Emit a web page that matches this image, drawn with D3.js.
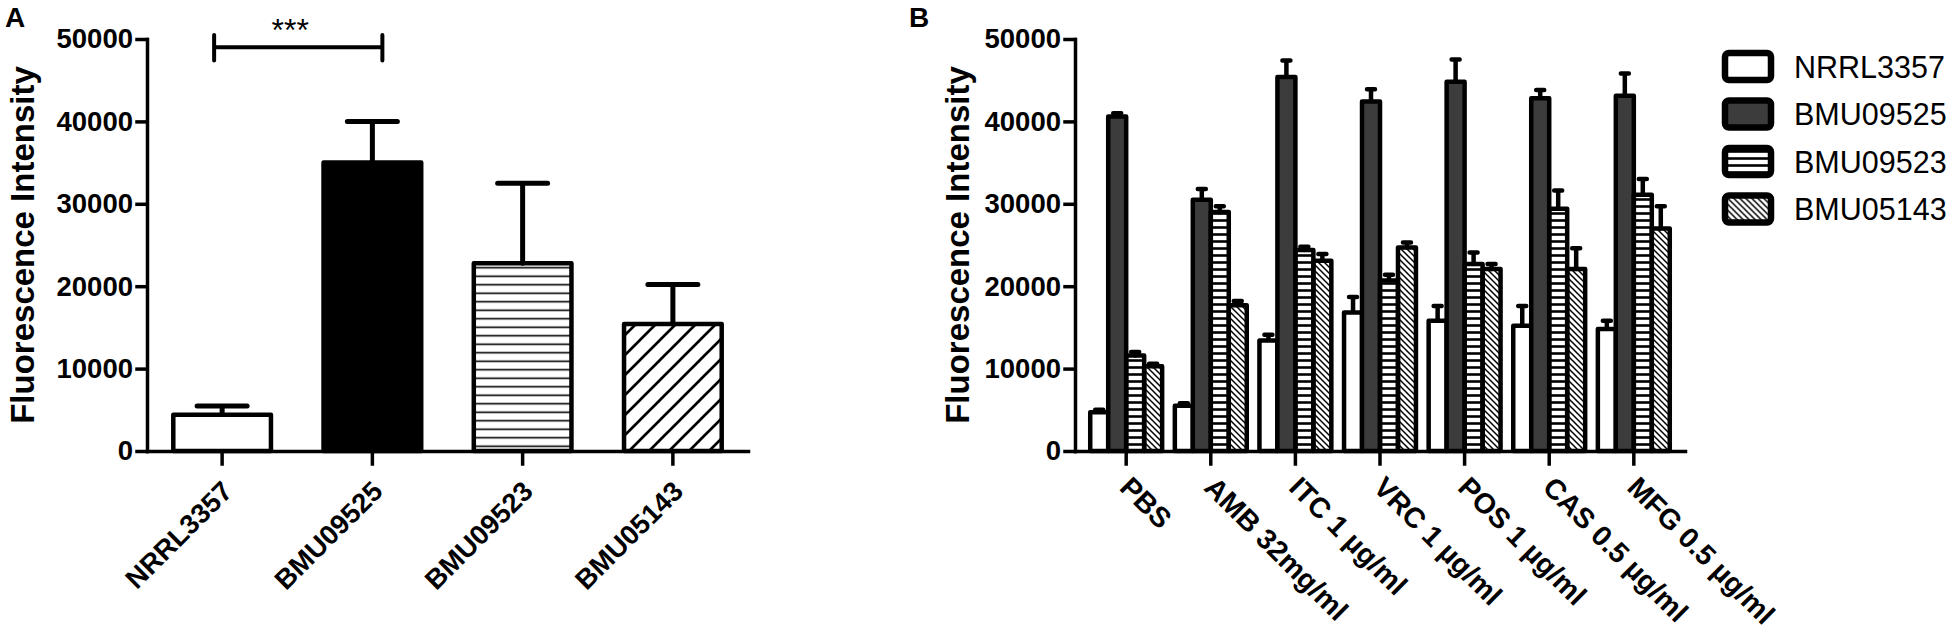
<!DOCTYPE html>
<html>
<head>
<meta charset="utf-8">
<script src="https://cdn.jsdelivr.net/npm/d3@7"></script>
<style>
  body { margin: 0; background: #fff; }
  svg { display: block; font-family: Arial, "Liberation Sans", sans-serif; }
  .axis .domain, .axis .tick line { stroke: #000; stroke-width: 3.5; stroke-linecap: square; }
  .axis text { fill: #000; font-weight: bold; font-size: 27.5px; }
</style>
</head>
<body>
<div id="chart"></div>
<script>
// ---- data ----
var strains = ["NRRL3357", "BMU09525", "BMU09523", "BMU05143"];
var yTicks = [0, 10000, 20000, 30000, 40000, 50000];

// panel A
var meansA = [4400, 35000, 22800, 15400];
var errA = [1050, 5000, 9700, 4800];

// panel B
var treatments = ["PBS", "AMB 32mg/ml", "ITC 1 µg/ml", "VRC 1 µg/ml",
                  "POS 1 µg/ml", "CAS 0.5 µg/ml", "MFG 0.5 µg/ml"];
var nrrl3357 = [4700, 5500, 13400, 16800, 15800, 15200, 14800];
var bmu09525 = [40600, 30500, 45400, 42400, 44800, 42800, 43100];
var bmu09523 = [11600, 29000, 24400, 20700, 22700, 29400, 31100];
var bmu05143 = [10300, 17700, 23100, 24700, 22100, 22100, 27000];
var nrrl3357Err = [300, 300, 700, 1900, 1800, 2400, 1000];
var bmu09525Err = [400, 1300, 2000, 1500, 2700, 1000, 2700];
var bmu09523Err = [400, 700, 400, 700, 1400, 2200, 1900];
var bmu05143Err = [300, 500, 800, 600, 600, 2500, 2700];

var W = 1955, H = 642;
var svg = d3.select("#chart").append("svg").attr("width", W).attr("height", H);

// fill patterns
var defs = svg.append("defs");
defs.append("pattern").attr("id", "stripeA").attr("patternUnits", "userSpaceOnUse")
    .attr("width", 10).attr("height", 8.5)
  .append("line").attr("x1", 0).attr("x2", 10).attr("y1", 4.25).attr("y2", 4.25)
    .attr("stroke", "#000").attr("stroke-width", 1.6);
defs.append("pattern").attr("id", "hatchA").attr("patternUnits", "userSpaceOnUse")
    .attr("width", 20).attr("height", 20)
  .append("path").attr("d", "M0,20L20,0M-5,5L5,-5M15,25L25,15")
    .attr("stroke", "#000").attr("stroke-width", 2.7);
defs.append("pattern").attr("id", "stripeB").attr("patternUnits", "userSpaceOnUse")
    .attr("width", 10).attr("height", 7)
  .append("line").attr("x1", 0).attr("x2", 10).attr("y1", 3.5).attr("y2", 3.5)
    .attr("stroke", "#000").attr("stroke-width", 2.6);
defs.append("pattern").attr("id", "hatchB").attr("patternUnits", "userSpaceOnUse")
    .attr("width", 6).attr("height", 6)
  .append("path").attr("d", "M0,0L6,6M-1,5L1,7M5,-1L7,1")
    .attr("stroke", "#000").attr("stroke-width", 1.5);

var fillsA = ["#fff", "#000", "url(#stripeA)", "url(#hatchA)"];
var fillsB = ["#fff", "#3c3c3c", "url(#stripeB)", "url(#hatchB)"];
var fmt = d3.format("d");

// ================= Panel A =================
var yA = d3.scaleLinear().domain([0, 50000]).range([451, 39]);
var xA = d3.scaleBand().domain(strains).range([147, 748])
    .paddingInner(0.32).paddingOuter(0.16);

svg.append("text").attr("x", 5).attr("y", 27)
    .attr("font-size", 28).attr("font-weight", "bold").text("A");

svg.append("text")
    .attr("transform", "translate(34," + ((yA(0) + yA(50000)) / 2) + ") rotate(-90)")
    .attr("text-anchor", "middle").attr("font-size", 33).attr("font-weight", "bold")
    .text("Fluorescence Intensity");

var swA = 4.5;
var dataA = strains.map(function(s, i) { return {s: s, v: meansA[i], e: errA[i], f: fillsA[i]}; });

var gA = svg.append("g");
gA.selectAll(".errA").data(dataA).enter().append("path")
    .attr("d", function(d) {
        var cx = xA(d.s) + xA.bandwidth() / 2;
        return "M" + cx + "," + yA(d.v) + "V" + yA(d.v + d.e) +
               "M" + (cx - 25) + "," + yA(d.v + d.e) + "H" + (cx + 25);
    })
    .attr("fill", "none").attr("stroke", "#000").attr("stroke-width", 5)
    .attr("stroke-linecap", "round");

gA.selectAll(".barA").data(dataA).enter().append("rect")
    .attr("x", function(d) { return xA(d.s) + swA / 2; })
    .attr("width", xA.bandwidth() - swA)
    .attr("y", function(d) { return yA(d.v); })
    .attr("height", function(d) { return yA(0) - yA(d.v); })
    .attr("fill", function(d) { return d.f; })
    .attr("stroke", "#000").attr("stroke-width", swA).attr("stroke-linejoin", "round");

gA.append("g").attr("class", "axis").attr("transform", "translate(147,0)")
    .call(d3.axisLeft(yA).tickValues(yTicks).tickFormat(fmt)
        .tickSize(10).tickSizeOuter(0).tickPadding(4));

gA.append("g").attr("class", "axis").attr("transform", "translate(0," + yA(0) + ")")
    .call(d3.axisBottom(xA).tickSize(13).tickSizeOuter(0))
  .selectAll("text")
    .attr("x", 0).attr("y", 0).attr("dy", 0)
    .attr("text-anchor", "end")
    .attr("transform", "translate(12,42) rotate(-45)");

// significance bracket
var bx1 = xA(strains[0]) + xA.bandwidth() / 2 - 8;
var bx2 = xA(strains[1]) + xA.bandwidth() / 2 + 10;
gA.append("path")
    .attr("d", "M" + bx1 + "," + yA(50500) + "V" + yA(47400) +
               "M" + bx1 + "," + yA(49000) + "H" + bx2 +
               "M" + bx2 + "," + yA(50500) + "V" + yA(47400))
    .attr("fill", "none").attr("stroke", "#000").attr("stroke-width", 4)
    .attr("stroke-linecap", "round");
gA.append("text").attr("x", (bx1 + bx2) / 2 - 8).attr("y", 41)
    .attr("text-anchor", "middle").attr("font-size", 32).text("***");

// ================= Panel B =================
var yB = d3.scaleLinear().domain([0, 50000]).range([451, 39]);
var xB = d3.scaleBand().domain(treatments).range([1075, 1685])
    .paddingInner(0.15).paddingOuter(0.18);
var xS = d3.scaleBand().domain(strains).range([0, xB.bandwidth()]);

svg.append("text").attr("x", 909).attr("y", 27)
    .attr("font-size", 28).attr("font-weight", "bold").text("B");

svg.append("text")
    .attr("transform", "translate(969," + ((yB(0) + yB(50000)) / 2) + ") rotate(-90)")
    .attr("text-anchor", "middle").attr("font-size", 33).attr("font-weight", "bold")
    .text("Fluorescence Intensity");

var seriesB = [nrrl3357, bmu09525, bmu09523, bmu05143];
var errsB = [nrrl3357Err, bmu09525Err, bmu09523Err, bmu05143Err];
var dataB = [];
treatments.forEach(function(t, j) {
    strains.forEach(function(s, i) {
        dataB.push({t: t, s: s, v: seriesB[i][j], e: errsB[i][j], f: fillsB[i]});
    });
});

var swB = 4.5;
var gB = svg.append("g");
gB.selectAll(".errB").data(dataB).enter().append("path")
    .attr("d", function(d) {
        var cx = xB(d.t) + xS(d.s) + xS.bandwidth() / 2;
        return "M" + cx + "," + yB(d.v) + "V" + yB(d.v + d.e) +
               "M" + (cx - 4) + "," + yB(d.v + d.e) + "H" + (cx + 4);
    })
    .attr("fill", "none").attr("stroke", "#000").attr("stroke-width", 4.5)
    .attr("stroke-linecap", "round");

gB.selectAll(".barB").data(dataB).enter().append("rect")
    .attr("x", function(d) { return xB(d.t) + xS(d.s); })
    .attr("width", xS.bandwidth())
    .attr("y", function(d) { return yB(d.v); })
    .attr("height", function(d) { return yB(0) - yB(d.v); })
    .attr("fill", function(d) { return d.f; })
    .attr("stroke", "#000").attr("stroke-width", swB).attr("stroke-linejoin", "round");

gB.append("g").attr("class", "axis").attr("transform", "translate(1075,0)")
    .call(d3.axisLeft(yB).tickValues(yTicks).tickFormat(fmt)
        .tickSize(10).tickSizeOuter(0).tickPadding(4));

gB.append("g").attr("class", "axis").attr("transform", "translate(0," + yB(0) + ")")
    .call(d3.axisBottom(xB).tickSize(13).tickSizeOuter(0))
  .selectAll("text")
    .attr("x", 0).attr("y", 0).attr("dy", 0)
    .attr("text-anchor", "start")
    .style("font-size", "28.5px")
    .attr("transform", "translate(-8,38) rotate(45)");

// legend
var legend = svg.append("g").attr("transform", "translate(1725,53)");
var item = legend.selectAll(".leg").data(strains).enter().append("g")
    .attr("transform", function(d, i) { return "translate(0," + (i * 47.5) + ")"; });
item.append("rect").attr("width", 46).attr("height", 27).attr("rx", 4)
    .attr("fill", function(d, i) { return fillsB[i]; })
    .attr("stroke", "#000").attr("stroke-width", 6.5);
item.append("text").attr("x", 69).attr("y", 24.5)
    .attr("font-size", 30.5).text(function(d) { return d; });
</script>
</body>
</html>
